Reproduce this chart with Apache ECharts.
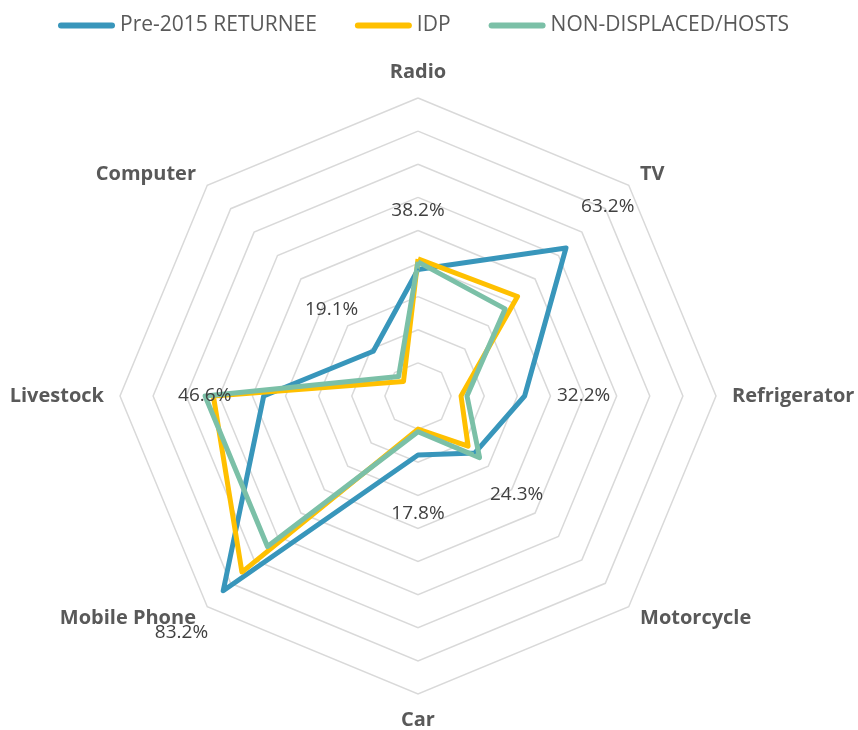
<!DOCTYPE html>
<html>
<head>
<meta charset="utf-8">
<script src="https://cdn.jsdelivr.net/npm/echarts@6/dist/echarts.min.js"></script>
<style>
  html, body { margin: 0; padding: 0; background: #fff; }
  #myChart { width: 858px; height: 730px; }
</style>
</head>
<body>
<div id="myChart"></div>
<script>
  // categories, clockwise from the top
  var categories = ['Radio', 'TV', 'Refrigerator', 'Motorcycle', 'Car', 'Mobile Phone', 'Livestock', 'Computer'];
  var pre2015 = [38.2, 63.2, 32.2, 24.3, 17.8, 83.2, 46.6, 19.1];
  var idp = [41.4, 42.5, 13.0, 21.4, 10.0, 75.2, 61.8, 6.2];
  var hosts = [40.5, 37.2, 14.8, 26.3, 10.8, 64.3, 64.3, 8.3];
  var seriesNames = ['Pre-2015 RETURNEE', 'IDP', 'NON-DISPLACED/HOSTS'];
  var colors = ['#3896BB', '#FFC000', '#7BC0A7'];

  var CX = 418, CY = 396, R = 298;

  // echarts lays out indicators counter-clockwise, so flip the order after the first one
  function ccw(a) {
    return [a[0]].concat(a.slice(1).reverse());
  }

  var myChart = echarts.init(document.getElementById('myChart'));

  myChart.setOption({
    animation: false,
    color: colors,
    textStyle: { fontFamily: 'Open Sans' },
    legend: {
      top: 10,
      left: 53,
      itemWidth: 57,
      itemHeight: 6,
      itemGap: 38,
      icon: 'path://M3,0 H54 A3,3 0 0 1 54,6 H3 A3,3 0 0 1 3,0 Z',
      textStyle: { fontSize: 21, color: '#595959' },
      data: seriesNames
    },
    radar: {
      center: [CX, CY],
      radius: R,
      splitNumber: 9,
      shape: 'polygon',
      indicator: ccw(categories).map(function (c) {
        return { name: c, min: 0, max: 90 };
      }),
      nameGap: 16,
      axisName: {
        color: '#595959',
        fontSize: 20,
        fontWeight: 'bold'
      },
      axisLine: { show: false },
      axisTick: { show: false },
      axisLabel: { show: false },
      splitArea: { show: false },
      splitLine: { lineStyle: { color: '#D9D9D9', width: 1.5 } }
    },
    series: [
      {
        name: seriesNames[0],
        type: 'radar',
        symbol: 'circle',
        symbolSize: 2,
        lineStyle: { width: 5, color: colors[0] },
        label: {
          show: true,
          position: 'inside',
          color: '#404040',
          fontSize: 19,
          formatter: function (p) { return p.value.toFixed(1) + '%'; }
        },
        // push each value label outward along its axis
        labelLayout: function (p) {
          var x = p.rect.x + p.rect.width / 2 - CX;
          var y = p.rect.y + p.rect.height / 2 - CY;
          var d = Math.sqrt(x * x + y * y) || 1;
          return { dx: x / d * 59, dy: y / d * 59 };
        },
        data: [{ value: ccw(pre2015), name: seriesNames[0] }]
      },
      {
        name: seriesNames[1],
        type: 'radar',
        symbol: 'none',
        lineStyle: { width: 5, color: colors[1] },
        data: [{ value: ccw(idp), name: seriesNames[1] }]
      },
      {
        name: seriesNames[2],
        type: 'radar',
        symbol: 'none',
        lineStyle: { width: 5, color: colors[2] },
        data: [{ value: ccw(hosts), name: seriesNames[2] }]
      }
    ]
  });
</script>
</body>
</html>
